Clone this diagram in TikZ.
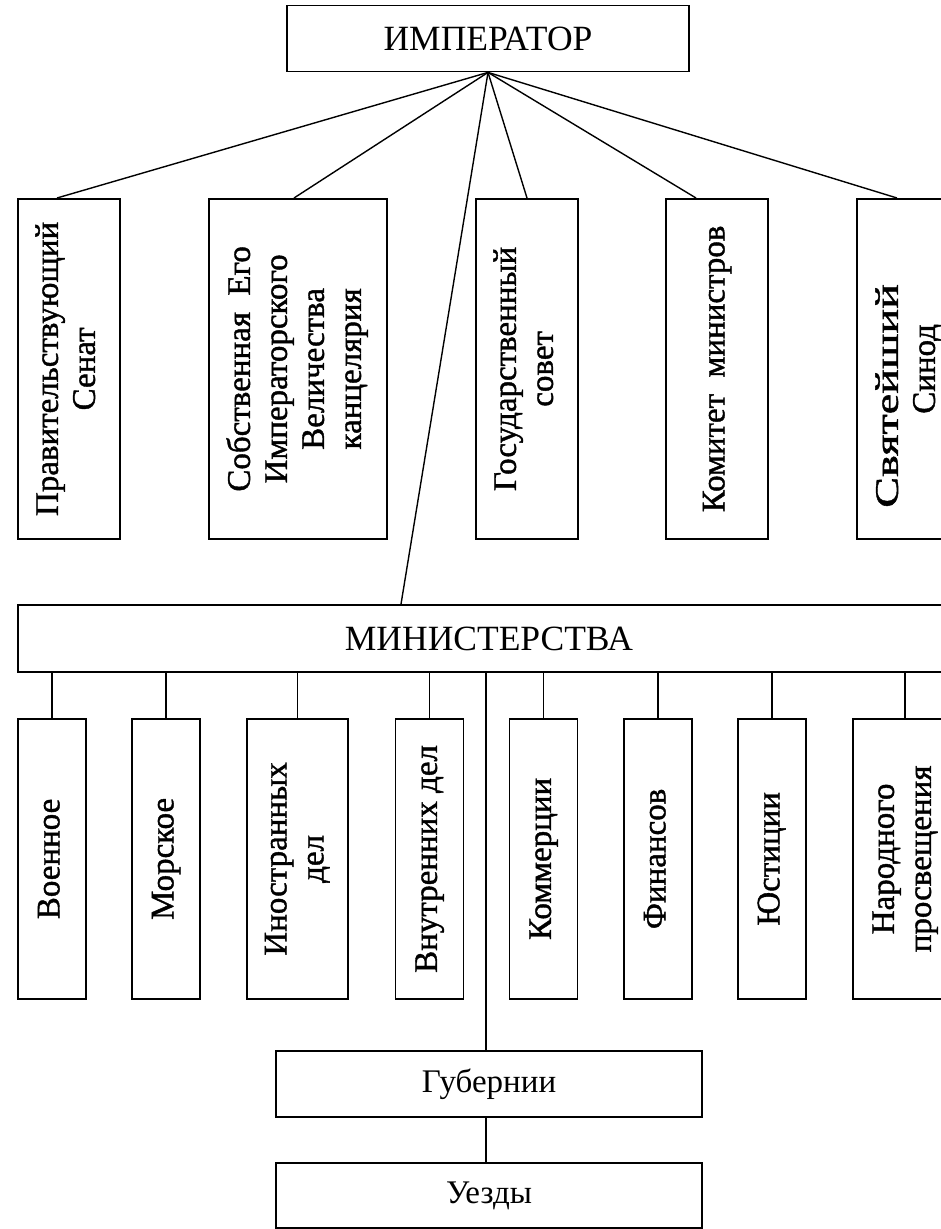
\documentclass[tikz,border=0pt]{standalone}
\usepackage{fontspec}
\setmainfont{Liberation Serif}
\newfontfamily\vfont[FakeBold=1.2]{Liberation Serif}
\usepackage{graphicx}
\usetikzlibrary{calc, positioning}
\tikzset{
    boxnode/.style = {draw, rectangle, line width=1.8pt, inner sep=0em, 
      font=\fontsize{33}{37}\selectfont},
    hornode/.style = {boxnode, minimum height=66pt},
    capsnode/.style = {hornode, font=\fontsize{35.5}{40}\selectfont},
    topnode/.style = {boxnode, anchor=north, minimum height=340pt, font=\fontsize{33}{37}\vfont},
    ministnode/.style = {boxnode, anchor=north, minimum height=280pt, font=\fontsize{33}{37}\vfont},
    widenode/.style = {minimum width=102pt},
    thinnode/.style = {minimum width=68pt},
    link/.style = {black, line width=1.4pt},
    every text node part/.style={align=center}
}
\newcommand{\vtext}[1]{\rotatebox{90}{\begin{tabular}{@{}c@{}}#1\end{tabular}}}

\begin{document}
\begin{tikzpicture}[x=1pt, y=-1pt]
    \clip (0,0) rectangle (941,1229);

    \node [capsnode, name=emperor, minimum width=402pt] at (488,38.5) {ИМПЕРАТОР};

    % upper level
    \node [topnode, widenode, name=senat] at (69,198) {\vtext{Правительствующий\\Сенат}};
    \node [topnode, name=kanc, minimum width=178pt] at (298,198) {\vtext{Собственная\ \ Его\\Императорского\\Величества\\канцелярия}};
    \node [topnode, widenode, name=gossovet] at (527,198) {\vtext{Государственный\\совет}};
    \node [topnode, widenode, name=komitet] at (717,198) {\vtext{Комитет\ \ министров}};
    \node [topnode, minimum width=104pt, name=sinod] at (909,198) {\vtext{\scalebox{1.4}[1]{Святейший}\hspace*{54pt}\\Синод}};

    \node [capsnode, name=minist, minimum width=942pt, minimum height=67pt] at (489,638.5) {МИНИСТЕРСТВА};

    \draw [link] (emperor.south) edge ([xshift=-12pt]senat.north);
    \draw [link] (emperor.south) edge ([xshift=-4pt]kanc.north);
    \draw [link] (emperor.south) edge ([xshift=-88pt]minist.north);
    \draw [link] (emperor.south) edge (gossovet.north);
    \draw [link] (emperor.south) edge ([xshift=-21pt]komitet.north);
    \draw [link] (emperor.south) edge ([xshift=-12pt]sinod.north);

    % ministries
    \node [ministnode, thinnode, name=voen] at (52,718) {\vtext{Военное}};
    \node [ministnode, thinnode, name=morsk] at (166,718) {\vtext{Морское}};
    \node [ministnode, widenode, minimum width=101pt, name=inostr] at (297.5,718) {\vtext{Иностранных\\дел}};
    \node [ministnode, thinnode, name=vnutr] at (429.5,718) {\vtext{Внутренних\ дел}};
    \node [ministnode, thinnode, name=kommerc] at (543.5,718) {\vtext{Коммерции}};
    \node [ministnode, thinnode, name=finans] at (658,718) {\vtext{Финансов}};
    \node [ministnode, thinnode, name=just] at (772,718) {\vtext{Юстиции}};
    \node [ministnode, widenode, minimum width=104pt, name=narod] at (905,718) {\vtext{Народного\\просвещения}};

    \draw [link] (voen.north) -- (voen.north |- minist.south);
    \draw [link] (morsk.north) -- (morsk.north |- minist.south);
    \draw [link] (inostr.north) -- (inostr.north |- minist.south);
    \draw [link] (vnutr.north) -- (vnutr.north |- minist.south);
    \draw [link] (kommerc.north) -- (kommerc.north |- minist.south);
    \draw [link] (finans.north) -- (finans.north |- minist.south);
    \draw [link] (just.north) -- (just.north |- minist.south);
    \draw [link] (narod.north) -- (narod.north |- minist.south);

    % local level
    \node [hornode, name=gub, minimum width=426pt] at (489,1084) {Губернии};
    \node [hornode, name=uezd, minimum width=426pt, minimum height=65pt] at (489,1195.5) {Уезды};

    \draw [link] ([xshift=-3pt]gub.north) -- ([xshift=-3pt]gub.north |- minist.south);
    \draw [link] ([xshift=-3pt]gub.south) -- ([xshift=-3pt]uezd.north);
\end{tikzpicture}
\end{document}
